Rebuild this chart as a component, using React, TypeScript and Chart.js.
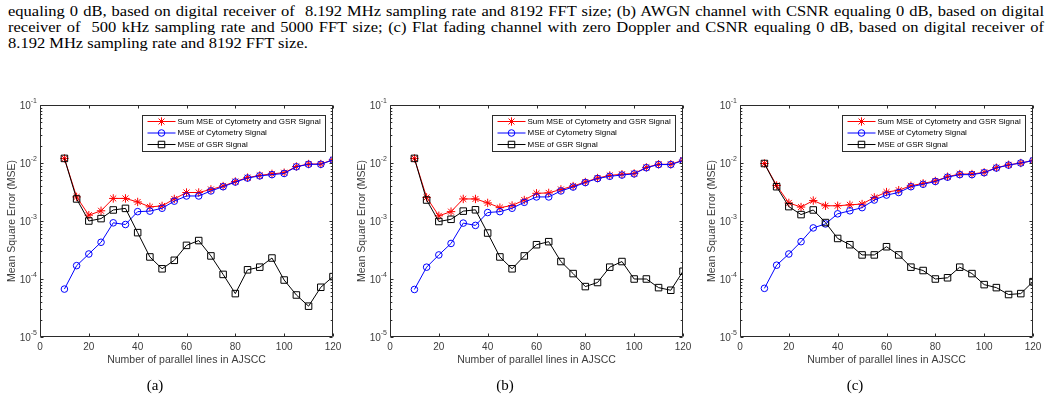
import React, { useEffect, useRef } from 'react';
import { Chart, registerables } from 'chart.js';

Chart.register(...registerables);

// ---------- data ----------
const parallelLines = [10, 15, 20, 25, 30, 35, 40, 45, 50, 55, 60, 65, 70, 75, 80, 85, 90, 95, 100, 105, 110, 115, 120];

const xTickValues = [0, 20, 40, 60, 80, 100, 120];
const yTickValues = [1e-5, 1e-4, 1e-3, 1e-2, 1e-1];
const yTickExponents = ['-5', '-4', '-3', '-2', '-1'];

const seriesNames = ['Sum MSE of Cytometry and GSR Signal', 'MSE of Cytometry Signal', 'MSE of GSR Signal'];

// (a)
const sumA = [0.012, 0.0026, 0.00126, 0.0015, 0.00245, 0.00245, 0.00213, 0.00175, 0.00182, 0.0024, 0.0031, 0.0031, 0.0035, 0.004, 0.0048, 0.0056, 0.0061, 0.0065, 0.0068, 0.0087, 0.0096, 0.0096, 0.0114];
const cytoA = [6.7e-5, 1.7e-4, 2.7e-4, 4.3e-4, 9.3e-4, 8.7e-4, 1.45e-3, 1.48e-3, 1.66e-3, 2.2e-3, 2.7e-3, 2.7e-3, 3.3e-3, 3.9e-3, 4.7e-3, 5.5e-3, 6.0e-3, 6.3e-3, 6.6e-3, 8.6e-3, 9.5e-3, 9.5e-3, 1.13e-2];
const gsrA = [1.2e-2, 2.4e-3, 1.0e-3, 1.1e-3, 1.55e-3, 1.65e-3, 6.3e-4, 2.4e-4, 1.5e-4, 2.1e-4, 3.8e-4, 4.6e-4, 2.5e-4, 1.2e-4, 5.6e-5, 1.44e-4, 1.6e-4, 2.3e-4, 9.6e-5, 5.3e-5, 3.4e-5, 7.2e-5, 1.1e-4];

// (b)
const sumB = [0.012, 0.00255, 0.00123, 0.00145, 0.0024, 0.0024, 0.00205, 0.0017, 0.00185, 0.0023, 0.003, 0.00305, 0.0035, 0.004, 0.0047, 0.0055, 0.0061, 0.0064, 0.0066, 0.0084, 0.0095, 0.0095, 0.0112];
const cytoB = [6.6e-5, 1.6e-4, 2.6e-4, 4.1e-4, 9.2e-4, 8.4e-4, 1.4e-3, 1.45e-3, 1.66e-3, 2.1e-3, 2.6e-3, 2.6e-3, 3.3e-3, 3.85e-3, 4.6e-3, 5.4e-3, 5.9e-3, 6.2e-3, 6.5e-3, 8.3e-3, 9.4e-3, 9.4e-3, 1.1e-2];
const gsrB = [1.2e-2, 2.3e-3, 9.8e-4, 1.07e-3, 1.48e-3, 1.56e-3, 6.2e-4, 2.4e-4, 1.5e-4, 2.5e-4, 3.9e-4, 4.4e-4, 2.0e-4, 1.24e-4, 7.4e-5, 8.7e-5, 1.6e-4, 2.0e-4, 1.0e-4, 1.0e-4, 7.1e-5, 6.4e-5, 1.36e-4];

// (c)
const sumC = [0.0098, 0.0041, 0.00205, 0.00174, 0.00225, 0.00183, 0.00183, 0.0019, 0.00196, 0.00255, 0.00315, 0.0034, 0.00405, 0.00445, 0.0049, 0.0058, 0.00645, 0.00645, 0.0069, 0.0083, 0.0093, 0.01, 0.011];
const cytoC = [6.9e-5, 1.73e-4, 2.7e-4, 4.4e-4, 7.6e-4, 8.9e-4, 1.33e-3, 1.5e-3, 1.7e-3, 2.3e-3, 2.8e-3, 3.1e-3, 3.9e-3, 4.3e-3, 4.8e-3, 5.7e-3, 6.3e-3, 6.3e-3, 6.8e-3, 8.2e-3, 9.2e-3, 1.0e-2, 1.1e-2];
const gsrC = [9.8e-3, 3.9e-3, 1.77e-3, 1.29e-3, 1.55e-3, 9.4e-4, 5.0e-4, 3.9e-4, 2.6e-4, 2.6e-4, 3.6e-4, 2.6e-4, 1.6e-4, 1.4e-4, 1.0e-4, 1.05e-4, 1.6e-4, 1.24e-4, 8.0e-5, 7.1e-5, 5.4e-5, 5.6e-5, 9.0e-5];

const captionLines = [
  'equaling 0 dB, based on digital receiver of \u00a08.192 MHz sampling rate and 8192 FFT size; (b) AWGN channel with CSNR equaling 0 dB, based on digital',
  'receiver of \u00a0500 kHz sampling rate and 5000 FFT size; (c) Flat fading channel with zero Doppler and CSNR equaling 0 dB, based on digital receiver of',
  '8.192 MHz sampling rate and 8192 FFT size.',
];

// ---------- styles ----------
const SANS = '"Liberation Sans", Arial, Helvetica, sans-serif';
const SERIF = '"Liberation Serif", "Times New Roman", serif';
const AXIS_COLOR = '#2b2b2b';
const TEXT_COLOR = '#3c3c3c';
const COLORS = ['#ff0000', '#0000ff', '#000000'];
const STYLES = ['star', 'circle', 'rect'];
const RADII = [4.2, 3.3, 4.6];
const CAPTION_SCALE = 1.1;

function drawMarker(ctx: CanvasRenderingContext2D, style: string, x: number, y: number, r: number, color: string) {
  ctx.save();
  ctx.strokeStyle = color;
  ctx.lineWidth = 1;
  ctx.beginPath();
  if (style === 'circle') {
    ctx.arc(x, y, r, 0, Math.PI * 2);
  } else if (style === 'rect') {
    const s = r * Math.SQRT1_2;
    ctx.rect(x - s, y - s, 2 * s, 2 * s);
  } else {
    for (let k = 0; k < 4; k++) {
      const a = (k * Math.PI) / 4;
      ctx.moveTo(x - Math.cos(a) * r, y - Math.sin(a) * r);
      ctx.lineTo(x + Math.cos(a) * r, y + Math.sin(a) * r);
    }
  }
  ctx.stroke();
  ctx.restore();
}

const framePlugin = {
  id: 'matlabFrame',
  afterDraw(chart: any) {
    const { ctx, chartArea: a, scales } = chart;
    const xs = scales.x;
    const ys = scales.y;
    ctx.save();
    const L = Math.round(a.left) + 0.5;
    const R = Math.round(a.right) - 0.5;
    const T = Math.round(a.top) + 0.5;
    const B = Math.round(a.bottom) - 0.5;
    ctx.strokeStyle = AXIS_COLOR;
    ctx.lineWidth = 1;
    ctx.beginPath();
    ctx.rect(L, T, R - L, B - T);
    for (const v of xTickValues) {
      const px = Math.round(xs.getPixelForValue(v)) + 0.5;
      ctx.moveTo(px, B);
      ctx.lineTo(px, B - 3);
      ctx.moveTo(px, T);
      ctx.lineTo(px, T + 3);
    }
    for (let i = 0; i < yTickValues.length; i++) {
      const v = yTickValues[i];
      const py = Math.round(ys.getPixelForValue(v)) + 0.5;
      ctx.moveTo(L, py);
      ctx.lineTo(L + 3, py);
      ctx.moveTo(R, py);
      ctx.lineTo(R - 3, py);
      if (i < yTickValues.length - 1) {
        for (let m = 2; m <= 9; m++) {
          const my = Math.round(ys.getPixelForValue(v * m)) + 0.5;
          ctx.moveTo(L, my);
          ctx.lineTo(L + 1.8, my);
          ctx.moveTo(R, my);
          ctx.lineTo(R - 1.8, my);
        }
      }
    }
    ctx.stroke();

    // y tick labels 10^n
    ctx.fillStyle = TEXT_COLOR;
    ctx.textAlign = 'right';
    ctx.textBaseline = 'middle';
    for (let i = 0; i < yTickValues.length; i++) {
      const py = ys.getPixelForValue(yTickValues[i]);
      const xr = a.left - 3;
      ctx.font = `7px ${SANS}`;
      const w = ctx.measureText(yTickExponents[i]).width;
      ctx.fillText(yTickExponents[i], xr, py - 4);
      ctx.font = `10px ${SANS}`;
      ctx.fillText('10', xr - w, py + 1);
    }

    // legend
    const bw = 183;
    const bh = 36;
    const bx = Math.round(a.right - 8 - bw) + 0.5;
    const by = Math.round(a.top + 10) + 0.5;
    ctx.fillStyle = '#ffffff';
    ctx.fillRect(bx, by, bw, bh);
    ctx.strokeStyle = AXIS_COLOR;
    ctx.strokeRect(bx, by, bw, bh);
    ctx.font = `8px ${SANS}`;
    ctx.textAlign = 'left';
    ctx.textBaseline = 'middle';
    for (let i = 0; i < seriesNames.length; i++) {
      const ry = by + 6 + i * 11.5;
      ctx.strokeStyle = COLORS[i];
      ctx.beginPath();
      ctx.moveTo(bx + 5, ry);
      ctx.lineTo(bx + 33, ry);
      ctx.stroke();
      drawMarker(ctx, STYLES[i], bx + 19, ry, RADII[i], COLORS[i]);
      ctx.fillStyle = '#000';
      ctx.fillText(seriesNames[i], bx + 35, ry);
    }
    ctx.restore();
  },
};

type PanelProps = { sum: number[]; cyto: number[]; gsr: number[]; left: number };

function Panel({ sum, cyto, gsr, left }: PanelProps) {
  const ref = useRef<HTMLCanvasElement | null>(null);
  useEffect(() => {
    if (!ref.current) return;
    const series = [sum, cyto, gsr];
    const chart = new Chart(ref.current, {
      type: 'line',
      data: {
        datasets: series.map((vals, i) => ({
          label: seriesNames[i],
          data: parallelLines.map((x, j) => ({ x, y: vals[j] })),
          borderColor: COLORS[i],
          backgroundColor: 'rgba(0,0,0,0)',
          pointBackgroundColor: 'rgba(0,0,0,0)',
          pointBorderColor: COLORS[i],
          pointStyle: STYLES[i] as any,
          pointRadius: RADII[i],
          pointBorderWidth: 1,
          borderWidth: 1,
          tension: 0,
          fill: false,
          order: 3 - i,
        })),
      },
      options: {
        animation: false,
        responsive: false,
        maintainAspectRatio: false,
        events: [],
        layout: { padding: { left: 0, top: 15, right: 17, bottom: 0 } },
        plugins: { legend: { display: false }, tooltip: { enabled: false } },
        scales: {
          x: {
            type: 'linear',
            min: 0,
            max: 120,
            grid: { display: false, drawTicks: false },
            border: { display: false },
            afterBuildTicks: (ax: any) => {
              ax.ticks = xTickValues.map((v) => ({ value: v }));
            },
            afterFit: (ax: any) => {
              ax.height = 43;
            },
            ticks: { font: { family: SANS, size: 10 }, color: TEXT_COLOR, padding: 4, maxRotation: 0, autoSkip: false },
            title: {
              display: true,
              text: 'Number of parallel lines in AJSCC',
              font: { family: SANS, size: 10.5 },
              color: TEXT_COLOR,
              padding: { top: 0, bottom: 14 },
            },
          },
          y: {
            type: 'logarithmic',
            min: 1e-5,
            max: 1e-1,
            grid: { display: false, drawTicks: false },
            border: { display: false },
            ticks: { display: false },
            afterFit: (ax: any) => {
              ax.width = 40;
            },
            title: {
              display: true,
              text: 'Mean Square Error (MSE)',
              font: { family: SANS, size: 10.5 },
              color: TEXT_COLOR,
              padding: { top: 6, bottom: 0 },
            },
          },
        },
      } as any,
      plugins: [framePlugin],
    });
    return () => chart.destroy();
  }, [sum, cyto, gsr]);
  return (
    <canvas
      ref={ref}
      width={350}
      height={290}
      style={{ position: 'absolute', left, top: 90, width: 350, height: 290 }}
    />
  );
}

const panelLabels = ['(a)', '(b)', '(c)'];
const panelLabelX = [155, 505, 855];

export default function App() {
  return (
    <div style={{ position: 'absolute', left: 0, top: 0, width: 1052, height: 403, background: '#fff', overflow: 'hidden' }}>
      <div
        style={{
          position: 'absolute',
          left: 8,
          top: 3,
          width: 1036 / CAPTION_SCALE,
          transform: `scaleX(${CAPTION_SCALE})`,
          transformOrigin: 'left top',
          fontFamily: SERIF,
          fontSize: 15,
          lineHeight: '16px',
          color: '#000',
        }}
      >
        {captionLines.map((t, i) => (
          <div key={i} style={{ textAlign: 'justify', textAlignLast: i < 2 ? 'justify' : 'left', whiteSpace: 'normal' }}>
            {t}
          </div>
        ))}
      </div>
      <Panel sum={sumA} cyto={cytoA} gsr={gsrA} left={0} />
      <Panel sum={sumB} cyto={cytoB} gsr={gsrB} left={350} />
      <Panel sum={sumC} cyto={cytoC} gsr={gsrC} left={700} />
      {panelLabels.map((t, i) => (
        <div
          key={t}
          style={{
            position: 'absolute',
            left: panelLabelX[i] - 30,
            width: 60,
            top: 376,
            textAlign: 'center',
            fontFamily: SERIF,
            fontSize: 15,
            lineHeight: '18px',
          }}
        >
          {t}
        </div>
      ))}
    </div>
  );
}
